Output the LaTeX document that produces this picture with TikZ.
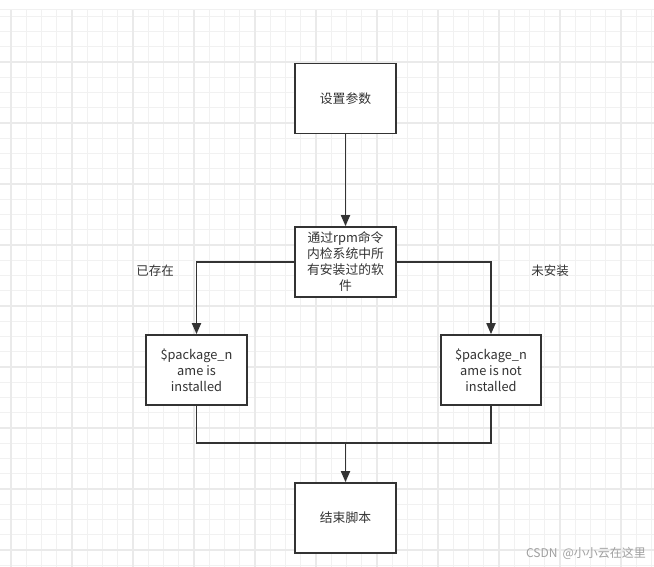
\documentclass[tikz,border=0pt]{standalone}
\usepackage{fontspec}
\setmainfont{Noto Sans CJK SC}
\usetikzlibrary{arrows.meta}
\definecolor{ink}{HTML}{333333}
\definecolor{gridminor}{HTML}{F1F1F1}
\definecolor{gridmajor}{HTML}{EAEAEA}
\definecolor{wm}{HTML}{A0A0A0}
\tikzset{
  box/.style={draw=ink, line width=1.7pt, fill=white, minimum width=101pt, minimum height=70pt,
    inner sep=2pt, align=center, text=ink, font=\fontsize{12.8pt}{16pt}\selectfont},
  conn/.style={draw=ink, line width=1.8pt},
  arr/.style={conn, -{Triangle[width=9pt,length=11pt]}},
  lbl/.style={text=ink, font=\fontsize{12.5pt}{16pt}\selectfont, inner sep=0pt},
}
\begin{document}
\begin{tikzpicture}[x=1pt,y=-1pt]
\useasboundingbox (0,0) rectangle (654,567);
\fill[white] (0,0) rectangle (654,567);
\begin{scope}
  \clip (0,10) rectangle (654,567);
  \foreach \k in {-1,...,43} {
    \draw[gridminor, line width=1pt] ({11+15.25*\k},10) -- ({11+15.25*\k},567);
    \draw[gridminor, line width=1pt] (0,{62+15.25*(\k-4)}) -- (654,{62+15.25*(\k-4)});
  }
  \foreach \k in {0,...,11} {
    \draw[gridmajor, line width=1.5pt] ({11+61*\k},10) -- ({11+61*\k},567);
    \draw[gridmajor, line width=1.5pt] (0,{1+61*\k}) -- (654,{1+61*\k});
  }
  \draw[gridminor, line width=1pt] (0,10) -- (654,10);
\end{scope}

\node[box] (a) at (345.5,98.5) {设置参数};
\node[box] (b) at (345.5,262) {通过rpm命令\\内检系统中所\\有安装过的软\\件};
\node[box] (l) at (196.5,370) {\$package\_n\\ame is\\installed};
\node[box, minimum width=100pt] (r) at (491,370) {\$package\_n\\ame is not\\installed};
\node[box] (e) at (345.5,518) {结束脚本};
\coordinate (m) at (345.5,443);

\draw[arr] (a.south) -- (b.north);
\draw[arr] (b.west) -| (l.north);
\draw[arr] (b.east) -| (r.north);
\draw[conn] (l.south) |- (m);
\draw[conn] (r.south) |- (m);
\draw[arr] (m) -- (e.north);

\node[lbl] (t1) at (155,271) {已存在};
\node[lbl] (t2) at (550,271) {未安装};
\node[text=wm, font=\fontsize{12pt}{14pt}\selectfont, inner sep=0pt] (w) at (586,553) {CSDN\hspace{5pt}@小小云在这里};
\end{tikzpicture}
\end{document}
